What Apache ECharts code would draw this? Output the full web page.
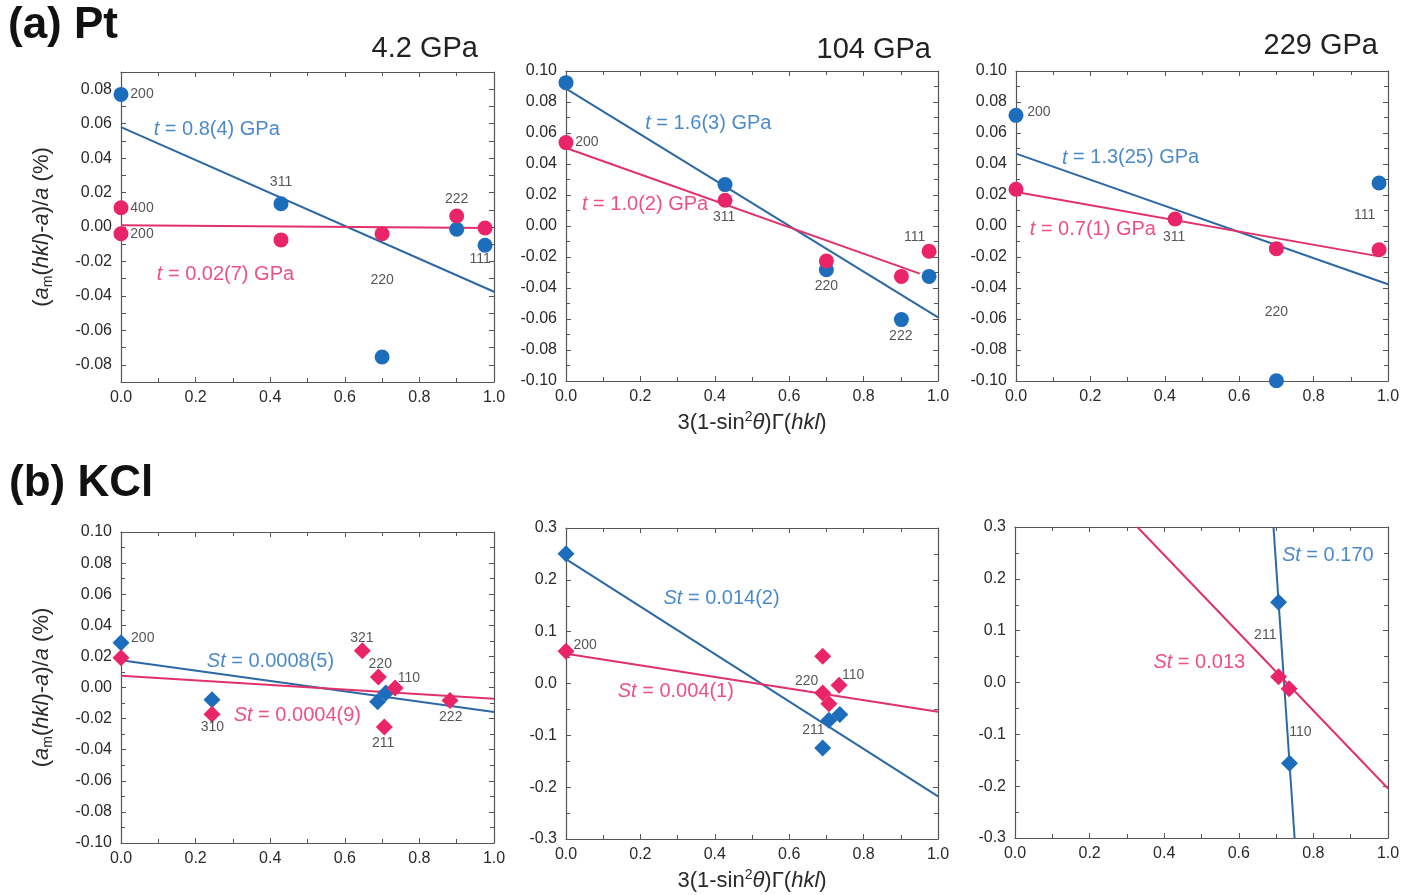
<!DOCTYPE html>
<html>
<head>
<meta charset="utf-8">
<script src="https://cdn.jsdelivr.net/npm/echarts@6/dist/echarts.min.js"></script>
<style>
  html, body { margin: 0; padding: 0; background: #fff; }
  #chart { width: 1413px; height: 895px; }
</style>
</head>
<body>
<div id="chart"></div>
<script>
// ---------- measured values: x = 3(1-sin²θ)Γ(hkl), y = (a_m(hkl)-a)/a in % ----------

// Pt, 4.2 GPa
const pt42Blue = [[0, 0.077], [0.429, 0.0135], [0.700, -0.0755], [0.900, -0.0013], [0.976, -0.0106]];
const pt42Pink = [[0, 0.0112], [0, -0.0039], [0.429, -0.0075], [0.700, -0.0039], [0.900, 0.0064], [0.976, -0.0006]];
const pt42BlueFit = [[0, 0.058], [1, -0.0376]];
const pt42PinkFit = [[0, 0.001], [0.99, -0.0006]];

// Pt, 104 GPa
const pt104Blue = [[0, 0.0925], [0.4275, 0.0267], [0.700, -0.0282], [0.9016, -0.0604], [0.976, -0.0325]];
const pt104Pink = [[0, 0.0538], [0.4275, 0.0166], [0.700, -0.0226], [0.9016, -0.0325], [0.976, -0.0163]];
const pt104BlueFit = [[0, 0.0886], [1, -0.059]];
const pt104PinkFit = [[0, 0.0503], [0.951, -0.0307]];

// Pt, 229 GPa
const pt229Blue = [[0, 0.0714], [0.700, -0.0998], [0.976, 0.0277]];
const pt229Pink = [[0, 0.0237], [0.4275, 0.0045], [0.700, -0.0146], [0.976, -0.0153]];
const pt229BlueFit = [[0, 0.0467], [1, -0.0376]];
const pt229PinkFit = [[0, 0.0219], [0.976, -0.0196]];

// KCl, 4.2 GPa
const kcl42Blue = [[0, 0.0288], [0.244, -0.0078], [0.688, -0.0091], [0.710, -0.0035]];
const kcl42Pink = [[0, 0.0192], [0.244, -0.0172], [0.647, 0.0237], [0.690, 0.0068], [0.706, -0.0254], [0.735, -0.0003], [0.882, -0.0083]];
const kcl42BlueFit = [[0, 0.0175], [1, -0.0158]];
const kcl42PinkFit = [[0, 0.0076], [1, -0.0072]];

// KCl, 104 GPa
const kcl104Blue = [[0, 0.2505], [0.690, -0.1244], [0.7066, -0.071], [0.736, -0.060]];
const kcl104Pink = [[0, 0.062], [0.690, 0.0524], [0.690, -0.0183], [0.7066, -0.039], [0.734, -0.0035]];
const kcl104BlueFit = [[0, 0.240], [1, -0.2177]];
const kcl104PinkFit = [[0, 0.0576], [1, -0.0543]];

// KCl, 229 GPa
const kcl229Blue = [[0.7066, 0.155], [0.736, -0.156]];
const kcl229Pink = [[0.7066, 0.0113], [0.735, -0.0119]];
const kcl229BlueFit = [[0.693, 0.3], [0.7496, -0.3]];
const kcl229PinkFit = [[0.328, 0.3], [1, -0.2046]];

// Fit results written inside each panel
const pt42Fits = ['t = 0.8(4) GPa', 't = 0.02(7) GPa'];
const pt104Fits = ['t = 1.6(3) GPa', 't = 1.0(2) GPa'];
const pt229Fits = ['t = 1.3(25) GPa', 't = 0.7(1) GPa'];
const kcl42Fits = ['St = 0.0008(5)', 'St = 0.0004(9)'];
const kcl104Fits = ['St = 0.014(2)', 'St = 0.004(1)'];
const kcl229Fits = ['St = 0.170', 'St = 0.013'];

const pressures = ['4.2 GPa', '104 GPa', '229 GPa'];

// ---------- styling ----------
const FONT = '"Liberation Sans", Arial, Helvetica, sans-serif';
const BLUE = '#1d6dbd', PINK = '#ea2468';
const BLUE_FIT = '#2c68a4', PINK_FIT = '#e2316a';
const AXIS = '#555', TXT = '#2a2a2a';

// hkl tags and fit captions: [text, x, y, align]
const panels = [
  {
    grid: { left: 121, top: 72, width: 373, height: 310 },
    y: { min: -0.09, max: 0.09, interval: 0.01, digits: 2, every: 2 },
    blue: pt42Blue, pink: pt42Pink, blueFit: pt42BlueFit, pinkFit: pt42PinkFit, symbol: 'circle',
    tags: [['200', 0.025, 0.077, 'left'], ['311', 0.429, 0.026, 'center'], ['400', 0.025, 0.011, 'left'],
           ['200', 0.025, -0.004, 'left'], ['222', 0.90, 0.016, 'center'], ['111', 0.963, -0.0187, 'center'],
           ['220', 0.70, -0.031, 'center']],
    fits: pt42Fits, fitPos: [[0.0875, 0.0565], [0.096, -0.0274]]
  },
  {
    grid: { left: 566, top: 71, width: 372, height: 310 },
    y: { min: -0.1, max: 0.1, interval: 0.02, digits: 2 },
    blue: pt104Blue, pink: pt104Pink, blueFit: pt104BlueFit, pinkFit: pt104PinkFit, symbol: 'circle',
    tags: [['200', 0.025, 0.0538, 'left'], ['311', 0.425, 0.0054, 'center'], ['220', 0.70, -0.039, 'center'],
           ['222', 0.90, -0.071, 'center'], ['111', 0.937, -0.0072, 'center']],
    fits: pt104Fits, fitPos: [[0.213, 0.066], [0.043, 0.014]]
  },
  {
    grid: { left: 1016, top: 71, width: 372, height: 310 },
    y: { min: -0.1, max: 0.1, interval: 0.02, digits: 2 },
    blue: pt229Blue, pink: pt229Pink, blueFit: pt229BlueFit, pinkFit: pt229PinkFit, symbol: 'circle',
    tags: [['200', 0.03, 0.0735, 'left'], ['311', 0.425, -0.0075, 'center'], ['220', 0.70, -0.0555, 'center'],
           ['111', 0.937, 0.0069, 'center']],
    fits: pt229Fits, fitPos: [[0.1234, 0.0439], [0.037, -0.0024]]
  },
  {
    grid: { left: 121, top: 532, width: 373, height: 311 },
    y: { min: -0.1, max: 0.1, interval: 0.02, digits: 2 },
    blue: kcl42Blue, pink: kcl42Pink, blueFit: kcl42BlueFit, pinkFit: kcl42PinkFit, symbol: 'diamond',
    tags: [['200', 0.027, 0.0318, 'left'], ['321', 0.646, 0.032, 'center'], ['220', 0.695, 0.0153, 'center'],
           ['110', 0.742, 0.0061, 'left'], ['222', 0.884, -0.019, 'center'], ['211', 0.703, -0.0357, 'center'],
           ['310', 0.245, -0.0258, 'center']],
    fits: kcl42Fits, fitPos: [[0.23, 0.017], [0.302, -0.0179]]
  },
  {
    grid: { left: 566, top: 528, width: 372, height: 311 },
    y: { min: -0.3, max: 0.3, interval: 0.1, digits: 1 },
    blue: kcl104Blue, pink: kcl104Pink, blueFit: kcl104BlueFit, pinkFit: kcl104PinkFit, symbol: 'diamond',
    tags: [['200', 0.02, 0.0736, 'left'], ['220', 0.647, 0.004, 'center'], ['110', 0.742, 0.0158, 'left'],
           ['211', 0.665, -0.09, 'center']],
    fits: kcl104Fits, fitPos: [[0.262, 0.164], [0.139, -0.0158]]
  },
  {
    grid: { left: 1015, top: 527, width: 373, height: 311 },
    y: { min: -0.3, max: 0.3, interval: 0.1, digits: 1 },
    blue: kcl229Blue, pink: kcl229Pink, blueFit: kcl229BlueFit, pinkFit: kcl229PinkFit, symbol: 'diamond',
    tags: [['211', 0.671, 0.0918, 'center'], ['110', 0.765, -0.096, 'center']],
    fits: kcl229Fits, fitPos: [[0.7156, 0.2445], [0.371, 0.038]]
  }
];

const tickStyle = { inside: true, length: 5, lineStyle: { color: AXIS, width: 1 } };
const minorStyle = { show: true, splitNumber: 2, length: 4, lineStyle: { color: AXIS, width: 1 } };
const lineStyleAxis = { show: true, onZero: false, lineStyle: { color: AXIS, width: 1.2 } };
const tickFont = { fontSize: 16, color: TXT, fontFamily: FONT };

const xTitle = {
  text: '3(1-sin{sup|2}{i|θ})Γ({i|hkl})',
  rich: {
    sup: { fontSize: 14, fontFamily: FONT, color: TXT, verticalAlign: 'top', lineHeight: 16 },
    i: { fontSize: 22, fontFamily: FONT, color: TXT, fontStyle: 'italic', lineHeight: 26 }
  }
};
const yTitle = {
  text: '({i|a}{sub|m}({i|hkl})-{i|a})/{i|a} (%)',
  rich: {
    sub: { fontSize: 14, fontFamily: FONT, color: TXT, verticalAlign: 'bottom', lineHeight: 16 },
    i: { fontSize: 22, fontFamily: FONT, color: TXT, fontStyle: 'italic', lineHeight: 26 }
  }
};

function fmt(v, digits) {
  if (Math.abs(v) < 1e-9) v = 0;
  return v.toFixed(digits);
}

const option = {
  animation: false,
  backgroundColor: '#fff',
  grid: [], xAxis: [], yAxis: [], series: [],
  graphic: [
    { type: 'text', left: 8, top: 4, style: { text: '(a) Pt', font: 'bold 44px ' + FONT, fill: '#111' } },
    { type: 'text', left: 9, top: 462, style: { text: '(b) KCl', font: 'bold 44px ' + FONT, fill: '#111' } }
  ]
};

const pressX = [478, 931, 1378];
const pressY = [49, 50, 46];
pressures.forEach((p, k) => {
  option.graphic.push({
    type: 'text', x: pressX[k], y: pressY[k],
    style: { text: p, font: '29px ' + FONT, fill: '#222', align: 'right', verticalAlign: 'middle' }
  });
});

function italicRich(color) {
  return { i: { fontStyle: 'italic', fontSize: 20, fontFamily: FONT, color } };
}
function fitText(s) {
  // the leading symbol (t or St) is set in italics
  const cut = s.indexOf(' ');
  return '{i|' + s.slice(0, cut) + '}' + s.slice(cut);
}

panels.forEach((p, i) => {
  option.grid.push(Object.assign({ containLabel: false }, p.grid));
  const xb = {
    gridIndex: i, type: 'value', position: 'bottom', min: 0, max: 1, interval: 0.2,
    axisLine: lineStyleAxis, axisTick: tickStyle, minorTick: minorStyle, splitLine: { show: false },
    axisLabel: Object.assign({ margin: 8, formatter: v => fmt(v, 1) }, tickFont)
  };
  if (i === 1 || i === 4) {
    Object.assign(xb, {
      name: xTitle.text, nameLocation: 'middle', nameGap: 29,
      nameTextStyle: { fontSize: 22, fontFamily: FONT, color: TXT, lineHeight: 26, rich: xTitle.rich }
    });
  }
  const xt = {
    gridIndex: i, type: 'value', position: 'top', min: 0, max: 1, interval: 0.2,
    axisLine: lineStyleAxis, axisTick: tickStyle, minorTick: minorStyle, splitLine: { show: false },
    axisLabel: { show: false }
  };
  const yc = p.y;
  const yMinor = yc.every ? { show: false } : minorStyle;
  const yl = {
    gridIndex: i, type: 'value', position: 'left', min: yc.min, max: yc.max, interval: yc.interval,
    axisLine: lineStyleAxis, axisTick: tickStyle, minorTick: yMinor, splitLine: { show: false },
    axisLabel: Object.assign({
      margin: 9,
      showMinLabel: true, showMaxLabel: true,
      formatter: v => {
        if (yc.every && Math.round(v / yc.interval) % yc.every !== 0) return '';
        return fmt(v, yc.digits);
      }
    }, tickFont)
  };
  if (i === 0 || i === 3) {
    Object.assign(yl, {
      name: yTitle.text, nameLocation: 'middle', nameGap: 66, nameRotate: 90,
      nameTextStyle: { fontSize: 22, fontFamily: FONT, color: TXT, lineHeight: 26, rich: yTitle.rich }
    });
  }
  const yr = {
    gridIndex: i, type: 'value', position: 'right', min: yc.min, max: yc.max, interval: yc.interval,
    axisLine: lineStyleAxis, axisTick: tickStyle, minorTick: yMinor, splitLine: { show: false },
    axisLabel: { show: false }
  };
  option.xAxis.push(xb, xt);
  option.yAxis.push(yl, yr);

  const ax = { xAxisIndex: 2 * i, yAxisIndex: 2 * i };
  const size = p.symbol === 'circle' ? 15 : 17;

  option.series.push(
    Object.assign({ type: 'line', data: p.blueFit, symbol: 'none', silent: true, z: 2,
      lineStyle: { color: BLUE_FIT, width: 2 } }, ax),
    Object.assign({ type: 'line', data: p.pinkFit, symbol: 'none', silent: true, z: 2,
      lineStyle: { color: PINK_FIT, width: 2 } }, ax),
    Object.assign({ type: 'scatter', data: p.blue, symbol: p.symbol, symbolSize: size, silent: true, z: 3,
      itemStyle: { color: BLUE, opacity: 1 } }, ax),
    Object.assign({ type: 'scatter', data: p.pink, symbol: p.symbol, symbolSize: size, silent: true, z: 4,
      itemStyle: { color: PINK, opacity: 1 } }, ax),
    // hkl tags
    Object.assign({
      type: 'scatter', symbolSize: 0, silent: true, z: 6,
      data: p.tags.map(([t, x, y, align]) => ({
        value: [x, y],
        label: { show: true, position: 'inside', formatter: t, align, verticalAlign: 'middle',
          fontSize: 14, fontFamily: FONT, color: TXT }
      }))
    }, ax),
    // fit captions
    Object.assign({
      type: 'scatter', symbolSize: 0, silent: true, z: 6,
      data: p.fits.map((t, k) => ({
        value: p.fitPos[k],
        label: { show: true, position: 'inside', formatter: fitText(t), align: 'left', verticalAlign: 'middle',
          fontSize: 20, fontFamily: FONT, color: k === 0 ? BLUE : PINK,
          rich: italicRich(k === 0 ? BLUE : PINK) }
      }))
    }, ax)
  );
});

const chart = echarts.init(document.getElementById('chart'), null, { renderer: 'canvas' });
chart.setOption(option);
</script>
</body>
</html>
